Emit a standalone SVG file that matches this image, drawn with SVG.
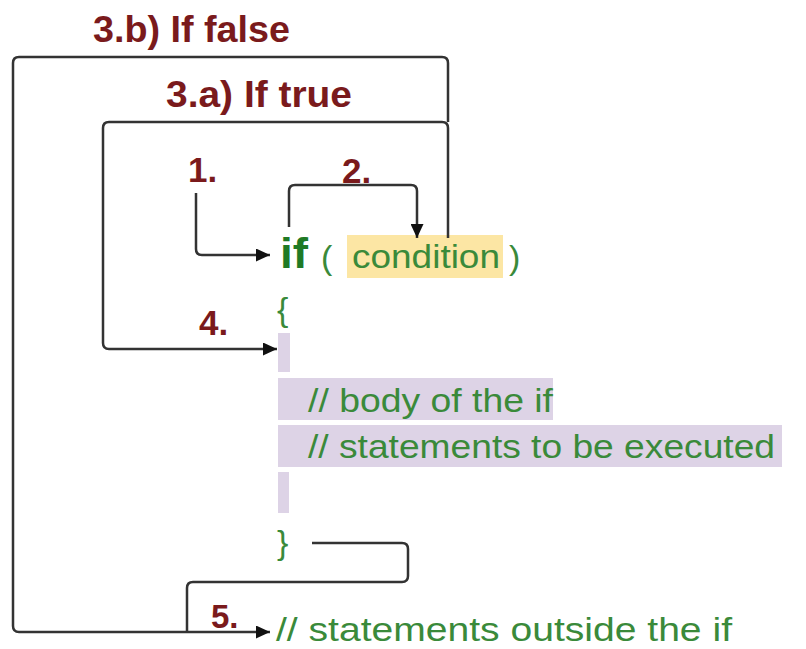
<svg xmlns="http://www.w3.org/2000/svg" width="806" height="649" viewBox="0 0 806 649">
<style>
.lbl{font-family:"Liberation Sans",Arial,sans-serif;font-weight:bold;fill:#7a1a1c;}
.code{font-family:"Liberation Sans",Arial,sans-serif;fill:#3a8a3a;font-size:34px;}
.kw{font-family:"Liberation Sans",Arial,sans-serif;font-weight:bold;fill:#1f7a25;font-size:42px;}
.conn{fill:none;stroke:#333;stroke-width:2.5;}
.band{fill:#ddd3e6;}
</style>
<defs>
<marker id="arr" markerUnits="userSpaceOnUse" markerWidth="15" markerHeight="13" refX="14" refY="6.5" orient="auto">
<path d="M0,0 L14,6.5 L0,13 z" fill="#111"/>
</marker>
</defs>
<rect width="806" height="649" fill="#fff"/>

<g id="labels">
<text class="lbl" x="93" y="42" font-size="37" textLength="197" lengthAdjust="spacingAndGlyphs">3.b) If false</text>
<text class="lbl" x="166" y="107" font-size="37" textLength="186" lengthAdjust="spacingAndGlyphs">3.a) If true</text>
<text class="lbl" x="188" y="182" font-size="35">1.</text>
<text class="lbl" x="342" y="183" font-size="35">2.</text>
<text class="lbl" x="199" y="335" font-size="35">4.</text>
<text class="lbl" x="211" y="628" font-size="33">5.</text>
</g>

<g id="if-line">
<rect x="347" y="235" width="156" height="43" fill="#fce6a4"/>
<text class="kw" x="280" y="268" textLength="28" lengthAdjust="spacingAndGlyphs">if</text>
<text class="code" x="321" y="269" font-size="38">(</text>
<text class="code" x="352" y="268" font-size="37" textLength="148" lengthAdjust="spacingAndGlyphs">condition</text>
<text class="code" x="509" y="269" font-size="38">)</text>
</g>

<g id="body">
<text class="code" x="277" y="321" font-size="36">{</text>
<rect class="band" x="278" y="333" width="12" height="39"/>
<rect class="band" x="278" y="378" width="275" height="42"/>
<rect class="band" x="278" y="425" width="504" height="42"/>
<rect class="band" x="278" y="472" width="11" height="41"/>
<text class="code" x="308" y="412" textLength="245" lengthAdjust="spacingAndGlyphs">// body of the if</text>
<text class="code" x="308" y="458" textLength="467" lengthAdjust="spacingAndGlyphs">// statements to be executed</text>
<text class="code" x="277" y="554" font-size="36">}</text>
</g>

<g id="after">
<text class="code" x="276" y="641" textLength="456" lengthAdjust="spacingAndGlyphs">// statements outside the if</text>
</g>

<g id="connectors">
<path class="conn" d="M196,193 V249 q0,6 6,6 H270" marker-end="url(#arr)"/>
<path class="conn" d="M289,227 V191 q0,-6 6,-6 H411 q6,0 6,6 V238" marker-end="url(#arr)"/>
<path class="conn" d="M448,238 V128 q0,-6 -6,-6 H109 q-6,0 -6,6 V343 q0,6 6,6 H277" marker-end="url(#arr)"/>
<path class="conn" d="M448,122 V63 q0,-6 -6,-6 H19 q-6,0 -6,6 V626 q0,6 6,6 H270" marker-end="url(#arr)"/>
<path class="conn" d="M312,543 H402 q6,0 6,6 V576 q0,6 -6,6 H193 q-6,0 -6,6 V632"/>
</g>
</svg>
